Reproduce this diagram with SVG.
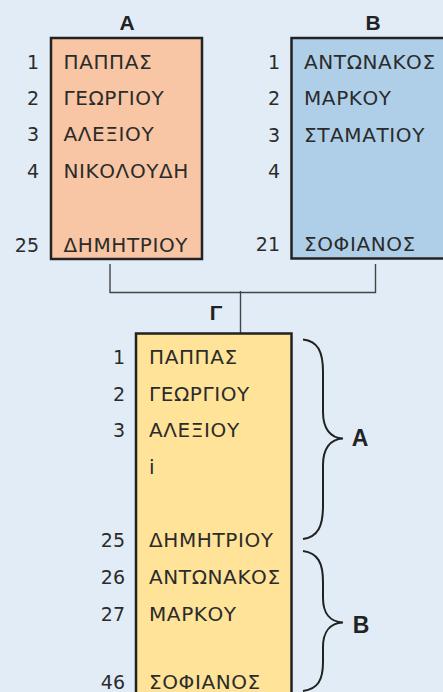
<svg xmlns="http://www.w3.org/2000/svg" width="443" height="692" viewBox="0 0 443 692">
<style>
.bg{fill:#E2ECF7}
.box{stroke:#222;stroke-width:2.5}
.t{font-family:"DejaVu Sans",sans-serif;font-size:19px;fill:#2b2b2b}
.nm{font-size:20px;letter-spacing:0.6px}
.num{text-anchor:end}
.lbl{font-family:"Liberation Sans",Arial,sans-serif;font-weight:bold;fill:#222}
.con{fill:none;stroke:#444;stroke-width:1.4}
.brace{fill:none;stroke:#222;stroke-width:2}
</style>
<rect class="bg" x="0" y="0" width="443" height="692"/>

<g id="tableA">
<text class="lbl" x="127" y="30" font-size="21" text-anchor="middle">A</text>
<rect class="box" x="51" y="38" width="151" height="221" fill="#F8C6A4"/>
<g class="t">
<text class="num" x="39" y="68.5">1</text><text class="nm" x="63.5" y="68.5">ΠΑΠΠΑΣ</text>
<text class="num" x="39" y="105">2</text><text class="nm" x="63.5" y="105">ΓΕΩΡΓΙΟΥ</text>
<text class="num" x="39" y="141">3</text><text class="nm" x="63.5" y="141">ΑΛΕΞΙΟΥ</text>
<text class="num" x="39" y="177.5">4</text><text class="nm" x="63.5" y="177.5">ΝΙΚΟΛΟΥΔΗ</text>
<text class="num" x="39" y="251.5">25</text><text class="nm" x="63.5" y="251.5">ΔΗΜΗΤΡΙΟΥ</text>
</g>
</g>

<g id="tableB">
<text class="lbl" x="373" y="30" font-size="21" text-anchor="middle">B</text>
<rect class="box" x="291.5" y="38" width="160" height="220.5" fill="#AFCFE9"/>
<g class="t">
<text class="num" x="280" y="69">1</text><text class="nm" x="304" y="69">ΑΝΤΩΝΑΚΟΣ</text>
<text class="num" x="280" y="105">2</text><text class="nm" x="304" y="105">ΜΑΡΚΟΥ</text>
<text class="num" x="280" y="141.5">3</text><text class="nm" x="304" y="141.5">ΣΤΑΜΑΤΙΟΥ</text>
<text class="num" x="280" y="178">4</text>
<text class="num" x="280" y="251">21</text><text class="nm" x="304" y="251">ΣΟΦΙΑΝΟΣ</text>
</g>
</g>

<g id="connectors">
<path class="con" d="M110,264 V292.5 H375.5 V264"/>
<path class="con" d="M240.5,291 V333"/>
</g>

<g id="tableG">
<text class="lbl" x="216" y="320" font-size="21" text-anchor="middle">Γ</text>
<rect class="box" x="136" y="333.5" width="155.5" height="370" fill="#FEE398"/>
<g class="t">
<text class="num" x="125" y="364">1</text><text class="nm" x="149" y="364">ΠΑΠΠΑΣ</text>
<text class="num" x="125" y="400.5">2</text><text class="nm" x="149" y="400.5">ΓΕΩΡΓΙΟΥ</text>
<text class="num" x="125" y="437">3</text><text class="nm" x="149" y="437">ΑΛΕΞΙΟΥ</text>
<text class="nm" x="149" y="473.5">i</text>
<text class="num" x="125" y="547">25</text><text class="nm" x="149" y="547">ΔΗΜΗΤΡΙΟΥ</text>
<text class="num" x="125" y="584">26</text><text class="nm" x="149" y="584">ΑΝΤΩΝΑΚΟΣ</text>
<text class="num" x="125" y="620.5">27</text><text class="nm" x="149" y="620.5">ΜΑΡΚΟΥ</text>
<text class="num" x="125" y="689">46</text><text class="nm" x="149" y="689">ΣΟΦΙΑΝΟΣ</text>
</g>
</g>

<g id="braceA">
<path class="brace" d="M303,339.5 C318,341 323,352 323,372 L323,412 C323,428 330,438 343,438.5 C330,439 323,449 323,465 L323,506 C323,526 318,537 303,539"/>
<text class="lbl" x="360" y="446" font-size="23" text-anchor="middle">A</text>
</g>

<g id="braceB">
<path class="brace" d="M303,551 C318,553 323,563 323,582 L323,598 C323,613 330,622 343,622.5 C330,623 323,632 323,647 L323,662 C323,680 318,689 303,691"/>
<text class="lbl" x="361" y="633" font-size="23" text-anchor="middle">B</text>
</g>
</svg>
